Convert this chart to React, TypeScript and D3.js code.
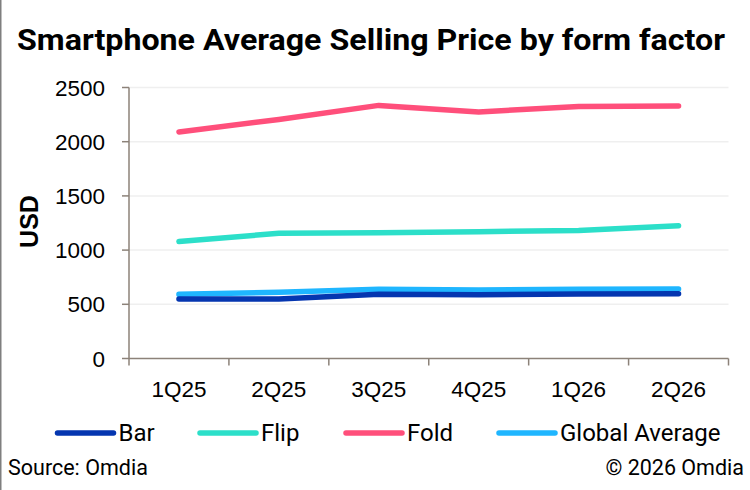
import React, { useRef, useEffect } from "react";
import * as d3 from "d3";

const quarters = ["1Q25", "2Q25", "3Q25", "4Q25", "1Q26", "2Q26"];
const barValues = [550, 550, 592, 588, 595, 598];
const flipValues = [1080, 1155, 1160, 1170, 1180, 1225];
const foldValues = [2090, 2205, 2335, 2275, 2325, 2330];
const globalValues = [592, 612, 638, 633, 638, 641];
const yTicks = [0, 500, 1000, 1500, 2000, 2500];

const seriesNames = ["Bar", "Flip", "Fold", "Global Average"];
const seriesColors = ["#0536b0", "#2cdfc9", "#ff4f7b", "#1fb6ff"];

export default function App() {
    const svgRef = useRef<SVGSVGElement | null>(null);

    useEffect(() => {
        if (!svgRef.current) return;
        const svg = d3.select(svgRef.current);
        svg.selectAll("*").remove();

        const width = 750;
        const height = 490;
        const plot = { left: 129, right: 728.5, top: 87.5, bottom: 358.5 };
        const axisColor = "#8c8279";
        const font = "'Liberation Sans', Arial, sans-serif";
        const narrow = "'Liberation Sans Narrow', 'Roboto', sans-serif";

        svg.append("rect").attr("width", width).attr("height", height).attr("fill", "#fff");
        // frame edge on the left
        svg.append("line")
            .attr("x1", 0.75).attr("x2", 0.75).attr("y1", 0).attr("y2", height)
            .attr("stroke", "#7f7f7f").attr("stroke-width", 1.5);

        // Title
        svg.append("text")
            .attr("x", 17).attr("y", 50)
            .attr("font-family", "Roboto, sans-serif")
            .attr("font-weight", 700)
            .attr("font-size", 30)
            .attr("textLength", 708)
            .attr("lengthAdjust", "spacingAndGlyphs")
            .attr("fill", "#000")
            .text("Smartphone Average Selling Price by form factor");

        const x = d3.scaleBand<string>().domain(quarters).range([plot.left, plot.right]);
        const y = d3.scaleLinear().domain([0, 2500]).range([plot.bottom, plot.top]);
        const cx = (q: string) => (x(q) ?? 0) + x.bandwidth() / 2;

        // Gridlines
        svg.append("g").selectAll("line")
            .data(yTicks.filter(t => t > 0))
            .join("line")
            .attr("x1", plot.left).attr("x2", plot.right)
            .attr("y1", d => y(d)).attr("y2", d => y(d))
            .attr("stroke", "#efefef").attr("stroke-width", 1.5);

        // Y axis
        const yAxis = svg.append("g");
        yAxis.append("line")
            .attr("x1", plot.left).attr("x2", plot.left)
            .attr("y1", plot.top).attr("y2", plot.bottom)
            .attr("stroke", axisColor).attr("stroke-width", 1.5);
        yAxis.selectAll("line.tick")
            .data(yTicks)
            .join("line")
            .attr("class", "tick")
            .attr("x1", plot.left - 7).attr("x2", plot.left)
            .attr("y1", d => y(d)).attr("y2", d => y(d))
            .attr("stroke", axisColor).attr("stroke-width", 1.5);
        yAxis.selectAll("text")
            .data(yTicks)
            .join("text")
            .attr("x", 105).attr("y", d => y(d))
            .attr("dy", "0.36em")
            .attr("text-anchor", "end")
            .attr("font-family", font)
            .attr("font-size", 22.5)
            .attr("fill", "#000")
            .text(d => String(d));

        svg.append("text")
            .attr("transform", `translate(38,221.5) rotate(-90)`)
            .attr("text-anchor", "middle")
            .attr("font-family", font)
            .attr("font-weight", 700)
            .attr("font-size", 25)
            .attr("fill", "#000")
            .text("USD");

        // X axis
        const xAxis = svg.append("g");
        xAxis.append("line")
            .attr("x1", plot.left).attr("x2", plot.right)
            .attr("y1", plot.bottom).attr("y2", plot.bottom)
            .attr("stroke", axisColor).attr("stroke-width", 1.5);
        const edges = [...quarters.map(q => x(q) ?? 0), plot.right];
        xAxis.selectAll("line.tick")
            .data(edges)
            .join("line")
            .attr("class", "tick")
            .attr("x1", d => d).attr("x2", d => d)
            .attr("y1", plot.bottom).attr("y2", plot.bottom + 7)
            .attr("stroke", axisColor).attr("stroke-width", 1.5);
        xAxis.selectAll("text")
            .data(quarters)
            .join("text")
            .attr("x", d => cx(d)).attr("y", 397)
            .attr("text-anchor", "middle")
            .attr("font-family", font)
            .attr("font-size", 22.5)
            .attr("fill", "#000")
            .text(d => d);

        // Lines
        const allSeries = [barValues, flipValues, foldValues, globalValues];
        const drawOrder = [1, 2, 3, 0];
        const line = d3.line<number>()
            .x((_, i) => cx(quarters[i]))
            .y(d => y(d));
        drawOrder.forEach(i => {
            svg.append("path")
                .datum(allSeries[i])
                .attr("fill", "none")
                .attr("stroke", seriesColors[i])
                .attr("stroke-width", 5.5)
                .attr("stroke-linecap", "round")
                .attr("stroke-linejoin", "round")
                .attr("d", line);
        });

        // Legend
        const legendX = [57.5, 200, 346, 499];
        const legend = svg.append("g");
        seriesNames.forEach((name, i) => {
            legend.append("line")
                .attr("x1", legendX[i]).attr("x2", legendX[i] + 56)
                .attr("y1", 433).attr("y2", 433)
                .attr("stroke", seriesColors[i])
                .attr("stroke-width", 5.5)
                .attr("stroke-linecap", "round");
            legend.append("text")
                .attr("x", legendX[i] + 61).attr("y", 441)
                .attr("font-family", narrow)
                .attr("font-size", 24)
                .attr("fill", "#000")
                .text(name);
        });

        // Footer
        svg.append("text")
            .attr("x", 8).attr("y", 475)
            .attr("font-family", narrow)
            .attr("font-size", 21.5)
            .attr("fill", "#000")
            .text("Source: Omdia");
        svg.append("text")
            .attr("x", 744).attr("y", 475)
            .attr("text-anchor", "end")
            .attr("font-family", narrow)
            .attr("font-size", 21.5)
            .attr("fill", "#000")
            .text("\u00a9 2026 Omdia");
    }, []);

    return (
        <svg
            ref={svgRef}
            width={750}
            height={490}
            style={{ position: "absolute", left: 0, top: 0, display: "block" }}
        />
    );
}
